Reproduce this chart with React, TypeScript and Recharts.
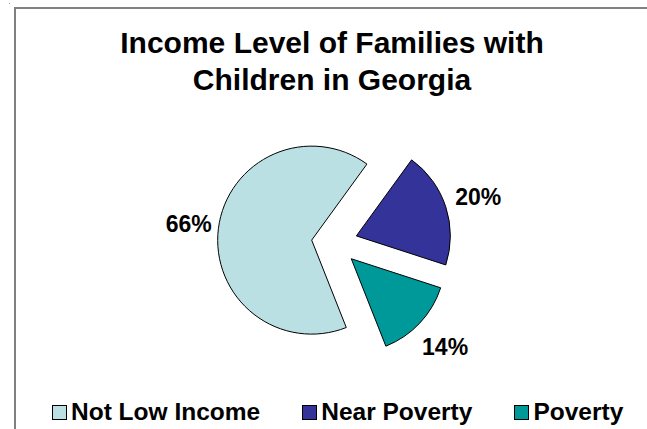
import React from 'react';
import { PieChart, Pie, Cell, Sector, Legend } from 'recharts';

const categories = ['Not Low Income', 'Near Poverty', 'Poverty'];
const shares = [66, 20, 14];
const colors = ['#BBE0E3', '#333399', '#009999'];
const titleLines = ['Income Level of Families with', 'Children in Georgia'];

const data = categories.map((name, i) => ({ name, value: shares[i] }));

const RAD = Math.PI / 180;
const EXPLODE = 23;
const LABEL_R = 149;
const font = 'Arial, "Liberation Sans", Helvetica, sans-serif';

// every slice is pulled out along its mid angle, label sits outside it
const ExplodedSlice = (props: any) => {
  const { cx, cy, midAngle, startAngle, endAngle, outerRadius, index, percent } = props;
  const ux = Math.cos(-midAngle * RAD);
  const uy = Math.sin(-midAngle * RAD);
  return (
    <g>
      <Sector
        cx={cx + EXPLODE * ux}
        cy={cy + EXPLODE * uy}
        innerRadius={0}
        outerRadius={outerRadius}
        startAngle={startAngle}
        endAngle={endAngle}
        fill={colors[index]}
        fillOpacity={1}
        stroke="#000"
        strokeOpacity={1}
        strokeWidth={1}
      />
      <text
        x={cx + LABEL_R * ux + 2}
        y={cy + LABEL_R * uy + (uy > 0 ? 2 : 0)}
        textAnchor="middle"
        dominantBaseline="central"
        fill="#000"
        style={{ fontFamily: font, fontWeight: 'bold', fontSize: 23 }}
      >
        {`${Math.round(percent * 100)}%`}
      </text>
    </g>
  );
};

const LegendContent = () => (
  <div style={{ display: 'flex', gap: 42, fontFamily: font, fontWeight: 'bold', fontSize: 24.5, lineHeight: '28px' }}>
    {categories.map((name, i) => (
      <div key={name} style={{ display: 'flex', alignItems: 'center', gap: 4 }}>
        <span style={{ display: 'inline-block', width: 13, height: 13, background: colors[i], border: '1px solid #000' }} />
        <span>{name}</span>
      </div>
    ))}
  </div>
);

export default function App() {
  return (
    <div style={{ position: 'absolute', left: 0, top: 0, width: 647, height: 429, overflow: 'hidden', background: '#fff' }}>
      <style>{'html, body { overflow: hidden; }'}</style>
      <div style={{ position: 'absolute', left: 9, top: 3, width: 1, height: 1, background: '#999' }} />
      <div
        style={{
          position: 'absolute', left: 14, top: 7, width: 640, height: 430,
          borderLeft: '2px solid #808080', borderTop: '2px solid #808080',
        }}
      />
      <div
        style={{
          position: 'absolute', left: 32, top: 24, width: 600, textAlign: 'center',
          fontFamily: font, fontWeight: 'bold', fontSize: 30, lineHeight: '37px', color: '#000',
        }}
      >
        {titleLines.map((t) => (
          <div key={t}>{t}</div>
        ))}
      </div>
      <div style={{ position: 'absolute', left: 0, top: 0 }}>
        <PieChart width={647} height={429} margin={{ top: 0, right: 0, bottom: 0, left: 0 }}>
          <Pie
            data={data}
            dataKey="value"
            nameKey="name"
            cx={334.5}
            cy={243}
            outerRadius={94}
            startAngle={-68.4}
            endAngle={-428.4}
            fillOpacity={0}
            strokeOpacity={0}
            label={ExplodedSlice}
            labelLine={false}
            isAnimationActive={false}
          >
            {data.map((d, i) => (
              <Cell key={d.name} fill={colors[i]} />
            ))}
          </Pie>
          <Legend
            content={LegendContent}
            wrapperStyle={{ position: 'absolute', left: 52, top: 398, width: 'auto', height: 'auto', bottom: 'auto' }}
          />
        </PieChart>
      </div>
    </div>
  );
}
